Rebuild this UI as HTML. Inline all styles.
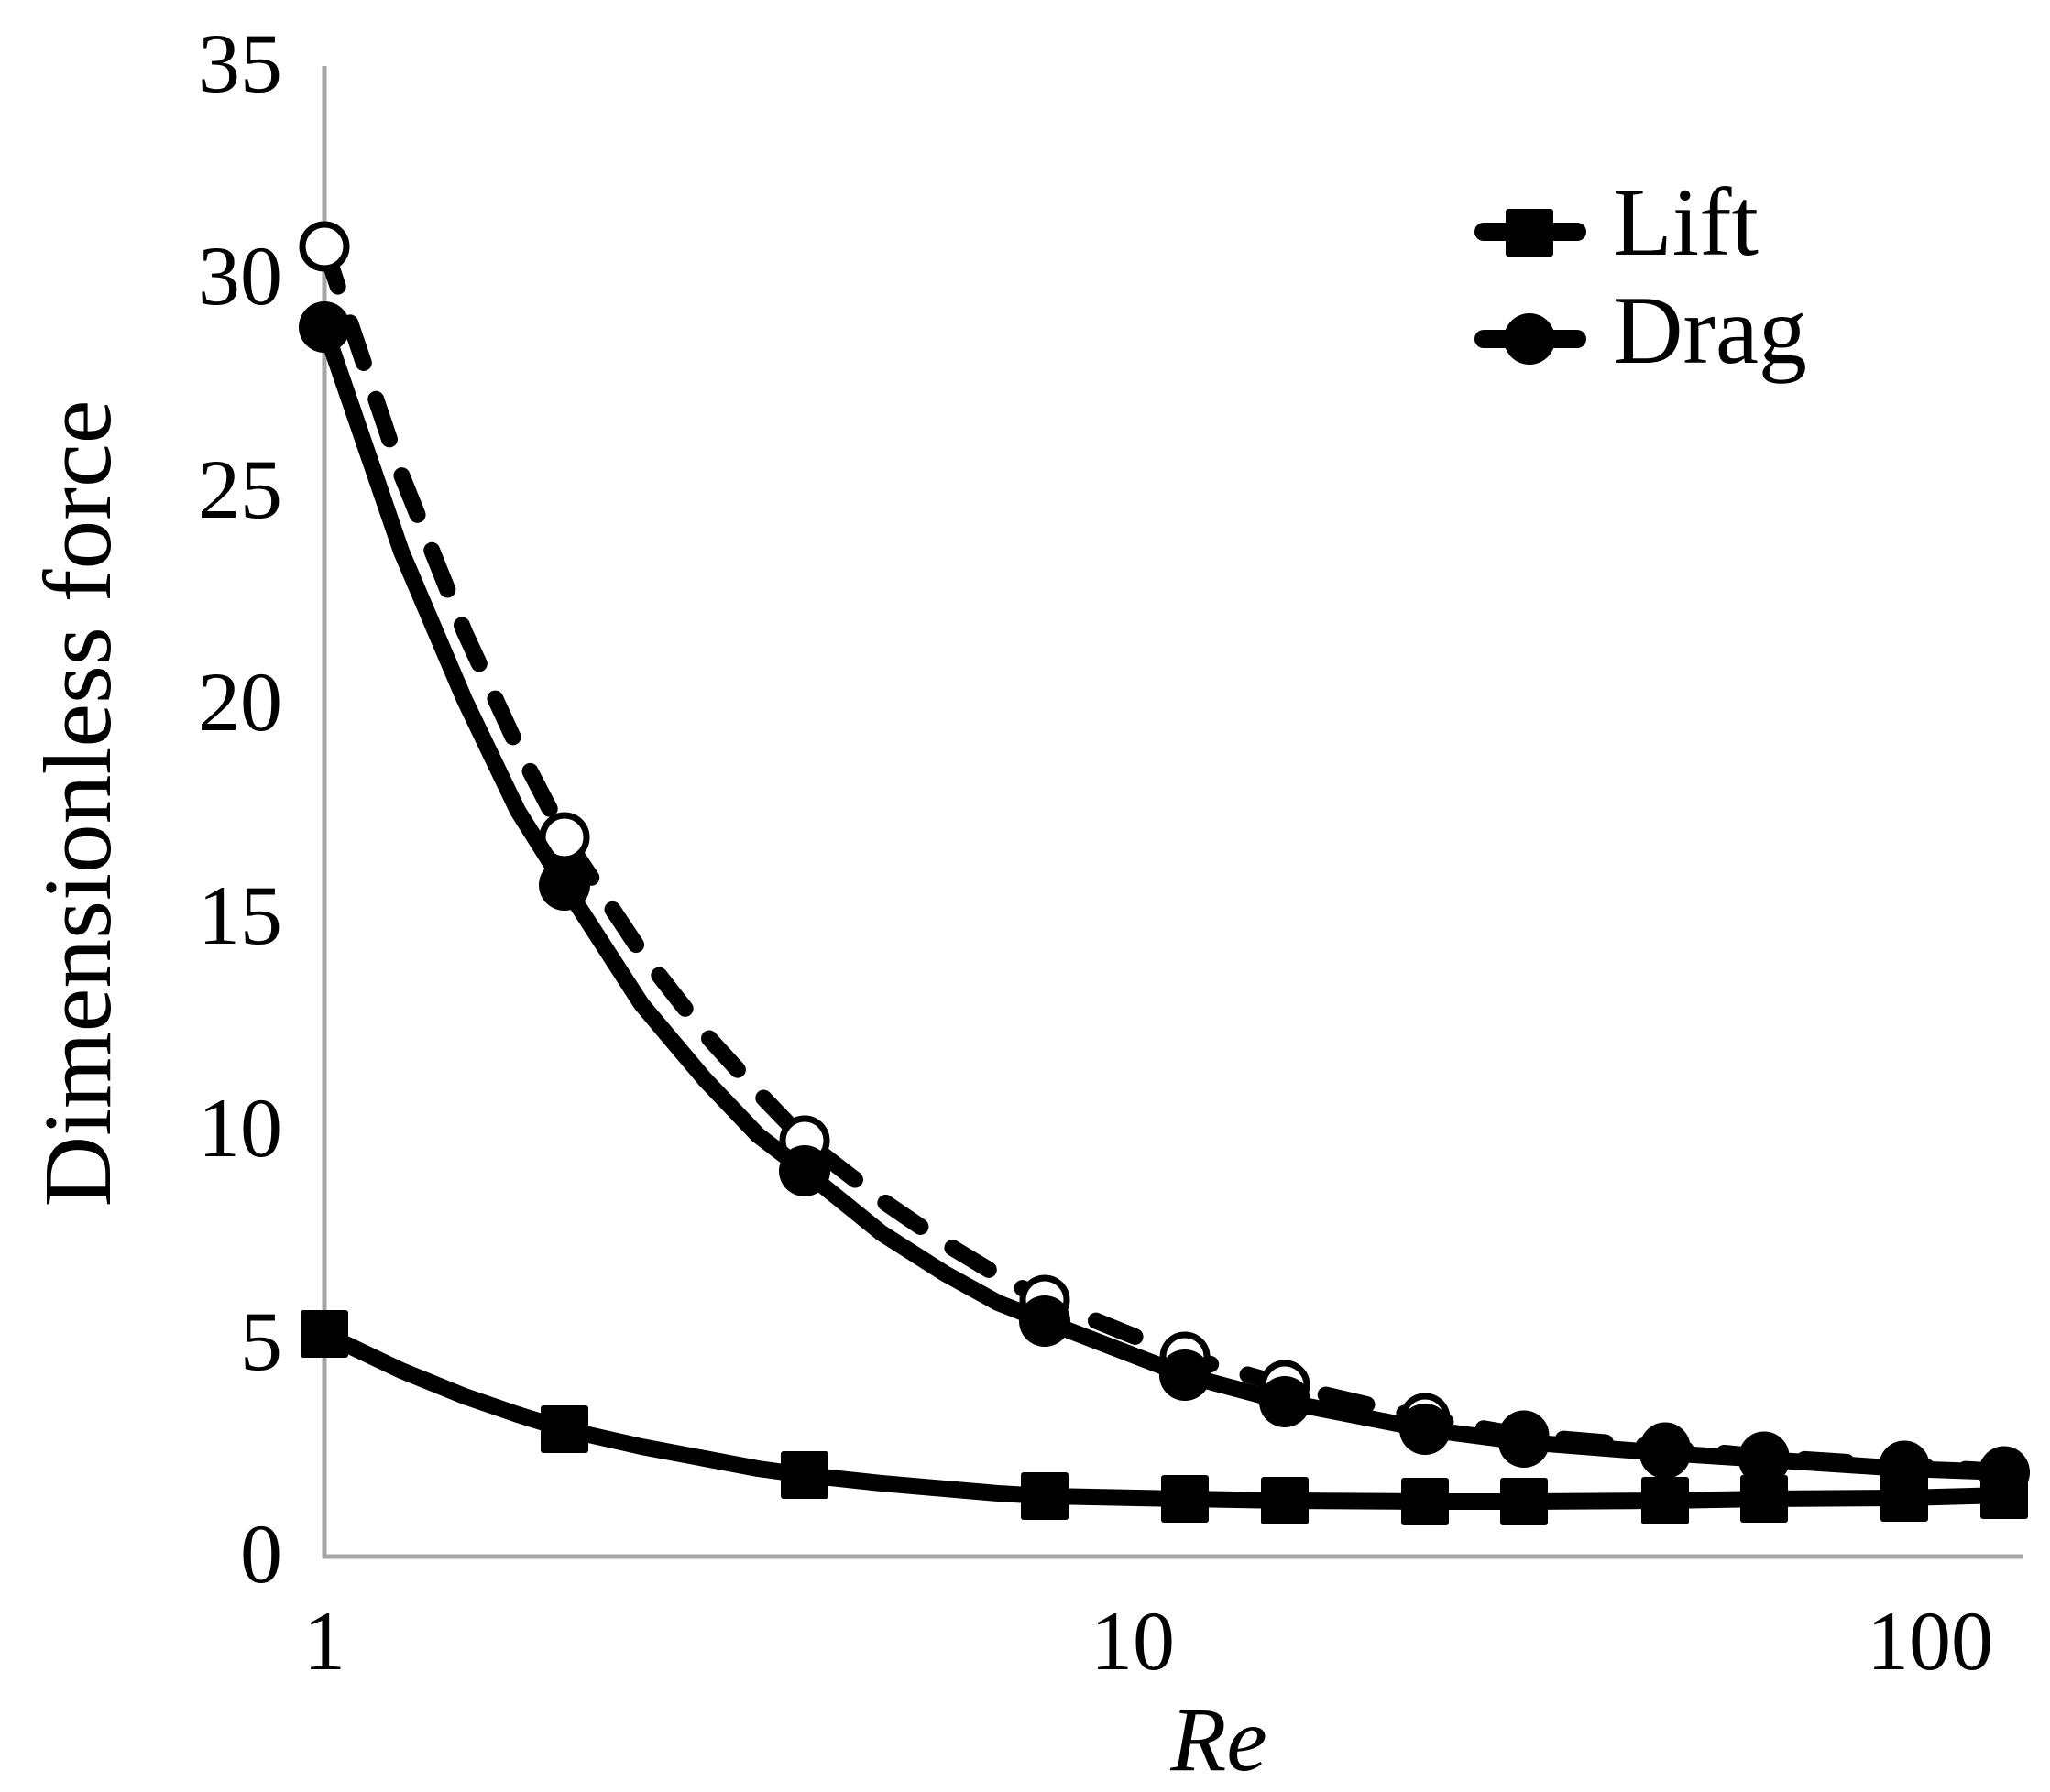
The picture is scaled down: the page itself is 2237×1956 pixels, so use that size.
<!DOCTYPE html>
<html><head><meta charset="utf-8"><style>
html,body{margin:0;padding:0;background:#fff;}
svg{display:block;}
text{font-family:"Liberation Serif","Times New Roman",serif;fill:#000;}
</style></head><body>
<svg width="2237" height="1956" viewBox="0 0 2237 1956" xmlns="http://www.w3.org/2000/svg">
<rect width="2237" height="1956" fill="#fff"/>
<line x1="354" y1="72" x2="354" y2="1701" stroke="#a6a6a6" stroke-width="5"/>
<line x1="352" y1="1699" x2="2208" y2="1699" stroke="#a6a6a6" stroke-width="5"/>
<g font-size="92" text-anchor="end">
<text x="308" y="1727">0</text>
<text x="308" y="1495">5</text>
<text x="308" y="1262">10</text>
<text x="308" y="1030">15</text>
<text x="308" y="797">20</text>
<text x="308" y="565">25</text>
<text x="308" y="332">30</text>
<text x="308" y="100">35</text>
</g>
<g font-size="92" text-anchor="middle">
<text x="354" y="1822">1</text>
<text x="1236" y="1822">10</text>
<text x="2106" y="1822">100</text>
</g>
<text x="1330" y="1932" font-size="100" font-style="italic" text-anchor="middle">Re</text>
<text transform="translate(120,877) rotate(-90)" font-size="105" text-anchor="middle" textLength="881" lengthAdjust="spacingAndGlyphs">Dimensionless force</text>
<!-- dashed drag -->
<polyline fill="none" stroke="#000" stroke-width="18" stroke-linecap="round" stroke-linejoin="round" stroke-dasharray="46 42"
points="354,269 438,518 507,690 565,816 616,914 700,1040 769,1128 827,1192 878,1245 962,1310 1031,1357 1089,1392 1140,1419 1293,1481 1402,1512 1555,1548 1663,1567 1817,1580 1925,1590 2078,1600 2187,1606"/>
<g fill="#fff" stroke="#000" stroke-width="7">
<circle cx="354" cy="269" r="24"/><circle cx="616" cy="914" r="24"/><circle cx="878" cy="1245" r="24"/>
<circle cx="1140" cy="1419" r="24"/><circle cx="1293" cy="1481" r="24"/><circle cx="1402" cy="1512" r="24"/>
<circle cx="1555" cy="1548" r="24"/><circle cx="1663" cy="1567" r="24"/><circle cx="1817" cy="1580" r="24"/>
<circle cx="1925" cy="1590" r="24"/><circle cx="2078" cy="1600" r="24"/><circle cx="2187" cy="1606" r="24"/>
</g>
<!-- solid drag -->
<polyline fill="none" stroke="#000" stroke-width="18" stroke-linecap="round" stroke-linejoin="round"
points="354,357 438,602 507,764 565,885 616,966 700,1096 769,1178 827,1239 878,1278 962,1346 1031,1390 1089,1422 1140,1442 1293,1501 1402,1530 1555,1560 1663,1574 1817,1586 1925,1593 2078,1603 2187,1607"/>
<g fill="#000">
<circle cx="354" cy="357" r="28"/><circle cx="616" cy="966" r="28"/><circle cx="878" cy="1278" r="28"/>
<circle cx="1140" cy="1442" r="28"/><circle cx="1293" cy="1501" r="28"/><circle cx="1402" cy="1530" r="28"/>
<circle cx="1555" cy="1560" r="28"/><circle cx="1663" cy="1574" r="28"/><circle cx="1817" cy="1586" r="28"/>
<circle cx="1925" cy="1593" r="28"/><circle cx="2078" cy="1603" r="28"/><circle cx="2187" cy="1607" r="28"/>
</g>
<!-- lift -->
<polyline fill="none" stroke="#000" stroke-width="18" stroke-linecap="round" stroke-linejoin="round"
points="354,1456 438,1496 507,1524 565,1544 616,1560 700,1579 769,1592 827,1603 878,1610 962,1619 1031,1625 1089,1630 1140,1633 1293,1636 1402,1638 1555,1639 1663,1639 1817,1638 1925,1636 2078,1635 2187,1632"/>
<g fill="#000">
<rect x="328" y="1430" width="52" height="52" rx="3"/><rect x="590" y="1534" width="52" height="52" rx="3"/>
<rect x="852" y="1584" width="52" height="52" rx="3"/><rect x="1114" y="1607" width="52" height="52" rx="3"/>
<rect x="1267" y="1610" width="52" height="52" rx="3"/><rect x="1376" y="1612" width="52" height="52" rx="3"/>
<rect x="1529" y="1613" width="52" height="52" rx="3"/><rect x="1637" y="1613" width="52" height="52" rx="3"/>
<rect x="1791" y="1612" width="52" height="52" rx="3"/><rect x="1899" y="1610" width="52" height="52" rx="3"/>
<rect x="2052" y="1609" width="52" height="52" rx="3"/><rect x="2161" y="1606" width="52" height="52" rx="3"/>
</g>
<!-- legend -->
<line x1="1619" y1="253" x2="1721" y2="253" stroke="#000" stroke-width="20" stroke-linecap="round"/>
<rect x="1643" y="228" width="52" height="52" rx="3" fill="#000"/>
<line x1="1619" y1="370" x2="1721" y2="370" stroke="#000" stroke-width="20" stroke-linecap="round"/>
<circle cx="1669" cy="370" r="28" fill="#000"/>
<text x="1760" y="278" font-size="106">Lift</text>
<text x="1760" y="396" font-size="106">Drag</text>
</svg>
</body></html>
